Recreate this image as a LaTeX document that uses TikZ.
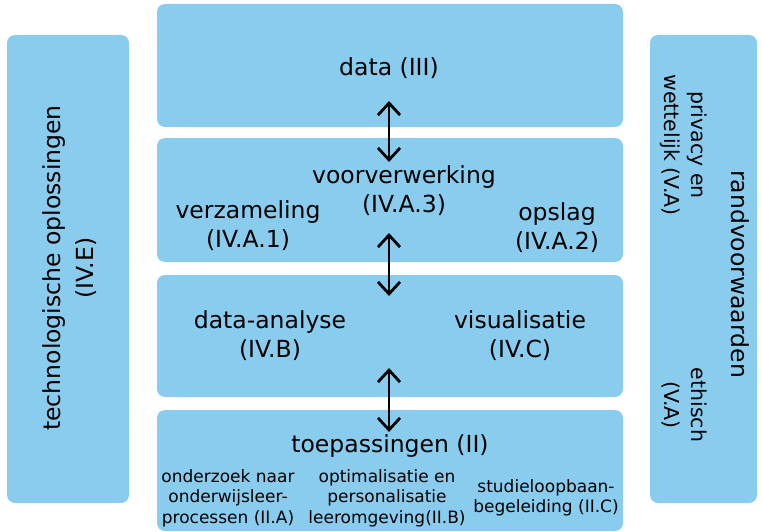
\documentclass[tikz,border=0pt]{standalone}
\usepackage{fontspec}
\setmainfont{DejaVu Sans}
\usetikzlibrary{arrows.meta}
\definecolor{skyblue}{RGB}{137, 204, 238}

\begin{document}
\begin{tikzpicture}[x=1pt, y=-1pt,
    panel/.style={fill=skyblue, rounded corners=8pt, inner sep=0pt},
    heading/.style={align=center, inner sep=0pt,
        font=\fontsize{23.5}{29}\selectfont},
    smalltext/.style={align=center, inner sep=0pt,
        font=\fontsize{17}{20.5}\selectfont},
    sidetext/.style={align=center, inner sep=0pt,
        font=\fontsize{20.5}{27}\selectfont},
    link/.style={{Straight Barb[length=12pt, width=22pt]}-{Straight Barb[length=12pt, width=22pt]},
        line width=2.8pt}]
    \useasboundingbox (0, 0) rectangle (762, 532);

    % panels
    \node[panel, minimum width=122pt, minimum height=468pt] (tech) at (68, 269) {};
    \node[panel, minimum width=466pt, minimum height=123pt] (datapanel) at (390, 65.5) {};
    \node[panel, minimum width=466pt, minimum height=124pt] (prep) at (390, 200) {};
    \node[panel, minimum width=466pt, minimum height=122pt] (analysis) at (390, 336) {};
    \node[panel, minimum width=466pt, minimum height=121pt] (apps) at (390, 470.5) {};
    \node[panel, minimum width=107pt, minimum height=468pt] (conditions) at (703.5, 269) {};

    % texts
    \node[heading, rotate=90, font=\fontsize{23.5}{33}\selectfont] (tech-text) at (70, 268)
        {technologische oplossingen\\(IV.E)};
    \node[heading] (data) at (389, 68) {data (III)};
    \node[heading] (voorverwerking) at (404, 191) {voorverwerking\\(IV.A.3)};
    \node[heading] (verzameling) at (248, 226) {verzameling\\(IV.A.1)};
    \node[heading] (opslag) at (557, 228) {opslag\\(IV.A.2)};
    \node[heading] (data-analyse) at (270, 336) {data-analyse\\(IV.B)};
    \node[heading] (visualisatie) at (520, 336) {visualisatie\\(IV.C)};
    \node[heading] (toepassingen) at (390, 446) {toepassingen (II)};
    \node[smalltext] (onderzoek) at (228, 498) {onderzoek naar\\onderwijsleer-\\processen (II.A)};
    \node[smalltext] (optimalisatie) at (387, 498) {optimalisatie en\\personalisatie\\leeromgeving(II.B)};
    \node[smalltext] (loopbaan) at (546, 498) {studieloopbaan-\\begeleiding (II.C)};
    \node[heading, rotate=-90] (rand) at (740, 274) {randvoorwaarden};
    \node[sidetext, rotate=-90] (privacy) at (684, 145) {privacy en\\wettelijk (V.A)};
    \node[sidetext, rotate=-90] (ethisch) at (684, 405) {ethisch\\(V.A)};

    % arrows
    \coordinate (a1) at (389, 101);
    \coordinate (b1) at (389, 162);
    \coordinate (a2) at (389, 233);
    \coordinate (b2) at (389, 296);
    \coordinate (a3) at (389, 368);
    \coordinate (b3) at (389, 432);
    \draw[link] (a1) -- (b1);
    \draw[link] (a2) -- (b2);
    \draw[link] (a3) -- (b3);
\end{tikzpicture}
\end{document}
